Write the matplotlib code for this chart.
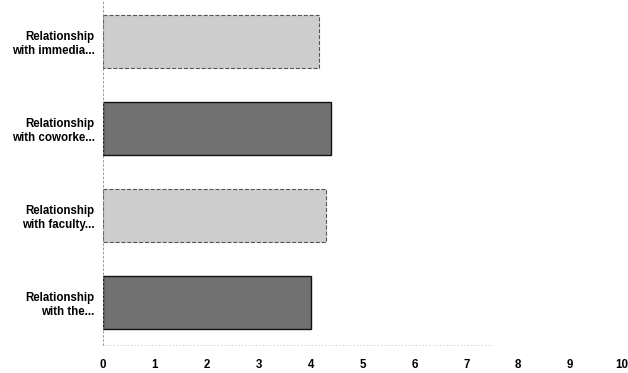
import matplotlib
matplotlib.use("Agg")
import matplotlib.pyplot as plt

# Mean ratings for each relationship item
categories = [
    "Relationship\nwith immedia...",
    "Relationship\nwith coworke...",
    "Relationship\nwith faculty...",
    "Relationship\nwith the...",
]
values = [4.17, 4.40, 4.29, 4.00]
xticks = list(range(0, 11))

fill_colors = ["#cdcdcd", "#717171", "#cdcdcd", "#717171"]
edge_colors = ["#555555", "#111111", "#555555", "#111111"]
edge_styles = ["--", "-", "--", "-"]

plt.rcParams["font.family"] = ["Liberation Sans", "DejaVu Sans"]

fig = plt.figure(figsize=(6.28, 3.73), dpi=100)
ax = fig.add_axes([103 / 628, 1 - 345 / 373, 519 / 628, 345 / 373])

positions = list(range(len(categories)))
for pos, val, fc, ec, ls in zip(positions, values, fill_colors, edge_colors, edge_styles):
    ax.barh(pos, val, height=0.61, color=fc, edgecolor=ec,
            linewidth=1.0 if ls == "-" else 0.8, linestyle=ls)

ax.set_xlim(0, 10)
ax.set_ylim(3.49, -0.48)
ax.set_yticks(positions)
ax.set_yticklabels(categories, fontsize=8.3, fontweight="bold",
                   ha="right", linespacing=1.25)
ax.set_xticks(xticks)
ax.set_xticklabels([str(t) for t in xticks], fontsize=8.3, fontweight="bold")
ax.tick_params(axis="both", length=0)
ax.tick_params(axis="y", pad=6)
ax.tick_params(axis="x", pad=10)

for side in ["top", "right"]:
    ax.spines[side].set_visible(False)
ax.spines["left"].set_color("#888888")
ax.spines["left"].set_linewidth(0.6)
ax.spines["left"].set_linestyle((0, (2, 3)))
ax.spines["bottom"].set_color("#bbbbbb")
ax.spines["bottom"].set_linewidth(0.5)
ax.spines["bottom"].set_linestyle((0, (1, 4)))
ax.spines["bottom"].set_bounds(0, 7.5)

fig.savefig("out.png", dpi=100)
